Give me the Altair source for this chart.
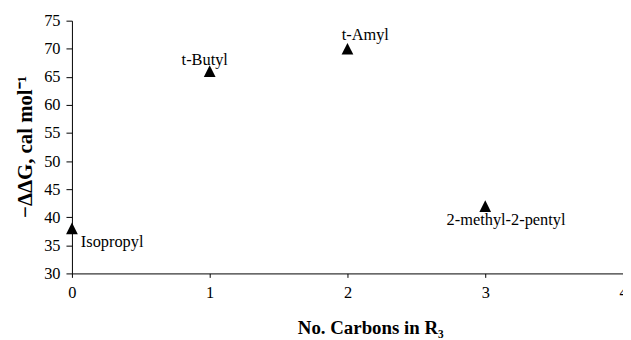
import altair as alt
import pandas as pd

# ---- data ----
substituents = ["Isopropyl", "t-Butyl", "t-Amyl", "2-methyl-2-pentyl"]
carbons = [0, 1, 2, 3]
ddg = [38, 66, 70, 42]

x_ticks = [0, 1, 2, 3, 4]
y_ticks = [30, 35, 40, 45, 50, 55, 60, 65, 70, 75]

x_title = "No. Carbons in R\u2083"
y_title = "\u2212\u0394\u0394G, cal mol\u207b\u00b9"

df = pd.DataFrame({"label": substituents, "x": carbons, "y": ddg})

# ---- styling ----
FONT = "Liberation Serif, Times New Roman, Times, serif"
W, H = 556, 255

xs = alt.Scale(domain=[x_ticks[0], x_ticks[-1]], nice=False, zero=False)
ys = alt.Scale(domain=[y_ticks[0], y_ticks[-1]], nice=False, zero=False)

x_axis = alt.Axis(
    values=x_ticks, format="d", tickSize=4, labelPadding=7, labelOverlap=False,
    labelFlush=False,
    titleX=301, titleY=60.5, titleAlign="center", titleBaseline="alphabetic",
)
y_axis = alt.Axis(
    values=y_ticks, format="d", tickSize=6, labelPadding=6, labelOverlap=False,
    labelFlush=False, tickCount=10,
    titleX=-41, titleY=127, titleAngle=270, titleAlign="center",
    titleBaseline="alphabetic", titleFontSize=21,
)

X = alt.X("x:Q", scale=xs, axis=x_axis, title=x_title)
Y = alt.Y("y:Q", scale=ys, axis=y_axis, title=y_title)

base = alt.Chart(df)

points = base.mark_point(
    shape="M0,-1L1,1L-1,1Z", size=140, filled=True, color="black", opacity=1
).encode(x=X, y=Y)

label_style = {
    "Isopropyl": dict(align="left", dx=9, dy=18.5),
    "t-Butyl": dict(align="center", dx=-5, dy=-6),
    "t-Amyl": dict(align="center", dx=18, dy=-8.5),
    "2-methyl-2-pentyl": dict(align="center", dx=21, dy=19),
}

layers = [points]
for name, st in label_style.items():
    layers.append(
        base.transform_filter(alt.datum.label == name)
        .mark_text(font=FONT, fontSize=16.5, color="black", baseline="alphabetic", **st)
        .encode(x=X, y=Y, text="label:N")
    )

chart = (
    alt.layer(*layers)
    .properties(
        width=W, height=H,
        autosize=alt.AutoSizeParams(type="none"),
        padding={"left": 64.5, "top": 11.3, "right": 0, "bottom": 66},
    )
    .configure_view(stroke=None)
    .configure_axis(
        grid=False,
        domainColor="black", domainWidth=1,
        tickColor="black", tickWidth=1,
        labelColor="black", labelFont=FONT, labelFontSize=16.5,
        titleColor="black", titleFont=FONT, titleFontSize=19, titleFontWeight="bold",
    )
)

chart.save("out.html", embed_options={"renderer": "svg", "actions": False})
